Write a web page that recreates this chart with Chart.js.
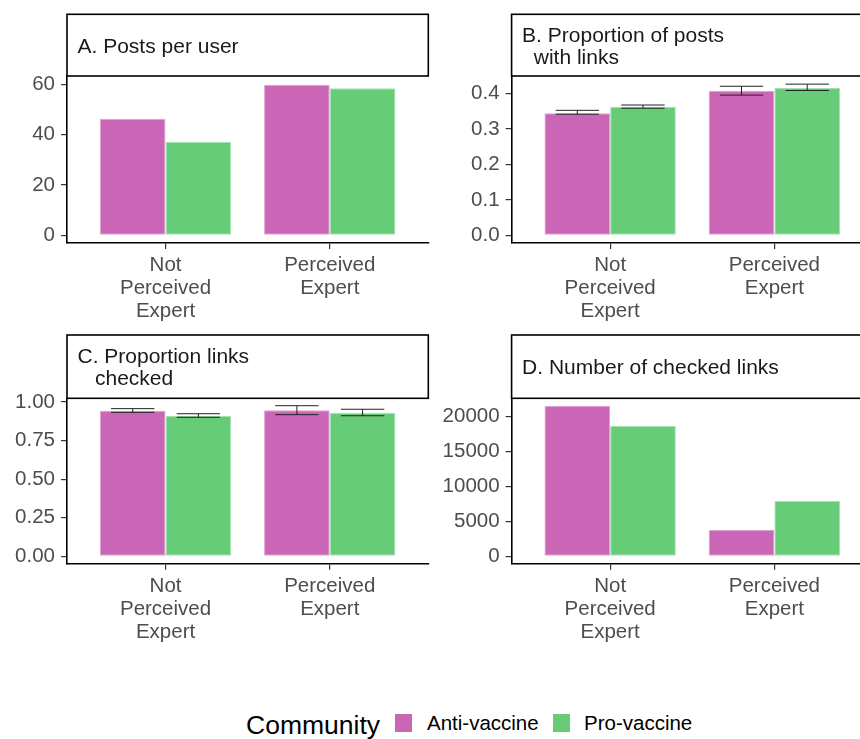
<!DOCTYPE html>
<html><head><meta charset="utf-8">
<script src="https://cdn.jsdelivr.net/npm/chart.js@4.4.1/dist/chart.umd.min.js"></script>
<style>
html,body{margin:0;padding:0;background:#fff;width:860px;height:739px;overflow:hidden;position:relative;font-family:"Liberation Sans",Arial,sans-serif;}
canvas{position:absolute;}
.leg{position:absolute;line-height:1;white-space:nowrap;color:#000;}
.sw{position:absolute;width:17px;height:17.5px;}
</style></head><body>
<canvas id="cA"></canvas>
<canvas id="cB"></canvas>
<canvas id="cC"></canvas>
<canvas id="cD"></canvas>
<div class="leg" style="left:246px;top:711.5px;font-size:26.5px">Community</div>
<div class="sw" style="left:395px;top:714px;background:#CB65B6"></div>
<div class="leg" style="left:427px;top:713.3px;font-size:20.5px">Anti-vaccine</div>
<div class="sw" style="left:553px;top:714px;background:#66CC78"></div>
<div class="leg" style="left:584px;top:713.3px;font-size:20.5px">Pro-vaccine</div>
<script>
// ---------- data ----------
const categories = [["Not", "Perceived", "Expert"], ["Perceived", "Expert"]];
const categoryPositions = [1, 2];
const seriesNames = ["Anti-vaccine", "Pro-vaccine"];

const stripA = ["A. Posts per user"];
const postsPerUserAnti = [46.3, 59.8];
const postsPerUserPro = [37.1, 58.4];
const ticksA = [0, 20, 40, 60];

const stripB = ["B. Proportion of posts", "  with links"];
const propLinksAnti = [0.345, 0.408];
const propLinksPro = [0.363, 0.416];
const propLinksAntiLow = [0.342, 0.396];
const propLinksAntiHigh = [0.353, 0.421];
const propLinksProLow = [0.359, 0.409];
const propLinksProHigh = [0.368, 0.427];
const ticksB = [0, 0.1, 0.2, 0.3, 0.4];

const stripC = ["C. Proportion links", "   checked"];
const propCheckedAnti = [0.944, 0.946];
const propCheckedPro = [0.911, 0.929];
const propCheckedAntiLow = [0.933, 0.918];
const propCheckedAntiHigh = [0.957, 0.976];
const propCheckedProLow = [0.901, 0.911];
const propCheckedProHigh = [0.924, 0.953];
const ticksC = [0, 0.25, 0.5, 0.75, 1.0];

const stripD = ["D. Number of checked links"];
const checkedLinksAnti = [21580, 3810];
const checkedLinksPro = [18670, 7920];
const ticksD = [0, 5000, 10000, 15000, 20000];

// ---------- styling ----------
const FONT = '"Liberation Sans", Arial, sans-serif';
Chart.defaults.font.family = FONT;
const ANTI = '#CB65B6', ANTI_EDGE = '#DDA0D2';
const PRO = '#66CC78', PRO_EDGE = '#A3E2AE';

const stripPlugin = {
  id: 'strip',
  afterDraw(chart, args, opts) {
    const ctx = chart.ctx, a = chart.chartArea;
    ctx.save();
    ctx.lineWidth = 1.6;
    ctx.strokeStyle = '#000';
    ctx.strokeRect(a.left, opts.top, a.right - a.left, a.top - opts.top);
    ctx.fillStyle = '#1A1A1A';
    ctx.font = '21px ' + FONT;
    ctx.textBaseline = 'alphabetic';
    ctx.textAlign = 'left';
    const mid = (opts.top + a.top) / 2;
    const n = opts.lines.length, lh = 22;
    opts.lines.forEach((t, i) => {
      const y = mid + (i - (n - 1) / 2) * lh + 7.5;
      ctx.fillText(t, a.left + 10.5, y);
    });
    ctx.restore();
  }
};

const errPlugin = {
  id: 'errbars',
  afterDatasetsDraw(chart) {
    const ctx = chart.ctx, ys = chart.scales.y;
    ctx.save();
    ctx.strokeStyle = '#222';
    ctx.lineWidth = 1;
    chart.data.datasets.forEach((ds, di) => {
      if (!ds.errLow) return;
      const meta = chart.getDatasetMeta(di);
      meta.data.forEach((el, i) => {
        const lo = ys.getPixelForValue(ds.errLow[i]);
        const hi = ys.getPixelForValue(ds.errHigh[i]);
        const hw = el.width * 0.33;
        ctx.beginPath();
        ctx.moveTo(el.x, lo); ctx.lineTo(el.x, hi);
        ctx.moveTo(el.x - hw, lo); ctx.lineTo(el.x + hw, lo);
        ctx.moveTo(el.x - hw, hi); ctx.lineTo(el.x + hw, hi);
        ctx.stroke();
      });
    });
    ctx.restore();
  }
};

function pts(vals) { return vals.map((v, i) => ({ x: categoryPositions[i], y: v })); }

function makePanel(p) {
  const cv = document.getElementById(p.id);
  cv.width = p.w; cv.height = p.h;
  cv.style.left = p.left + 'px'; cv.style.top = p.top + 'px';
  cv.style.width = p.w + 'px'; cv.style.height = p.h + 'px';
  const plotW = 361.3;
  const ds = [
    { label: seriesNames[0], data: pts(p.anti), backgroundColor: ANTI, borderColor: ANTI_EDGE,
      borderWidth: 1, borderSkipped: false, errLow: p.antiLow, errHigh: p.antiHigh },
    { label: seriesNames[1], data: pts(p.pro), backgroundColor: PRO, borderColor: PRO_EDGE,
      borderWidth: 1, borderSkipped: false, errLow: p.proLow, errHigh: p.proHigh }
  ];
  new Chart(cv, {
    type: 'bar',
    data: { datasets: ds },
    options: {
      responsive: false, animation: false, devicePixelRatio: 1,
      layout: { padding: { top: p.areaTop, left: 0, right: p.w - (p.yW + plotW), bottom: 0 } },
      datasets: { bar: { categoryPercentage: 0.8, barPercentage: 1.0, grouped: true } },
      plugins: {
        legend: { display: false }, tooltip: { enabled: false },
        strip: { top: p.stripTop, lines: p.strip }
      },
      scales: {
        x: {
          type: 'linear', min: 0.4, max: 2.6, offset: false,
          afterBuildTicks(s) { s.ticks = categoryPositions.map(v => ({ value: v })); },
          afterFit(s) { s.height = p.h - p.areaBottom; },
          ticks: {
            autoSkip: false, maxRotation: 0, padding: 5,
            color: '#4D4D4D', font: { size: 20.5, lineHeight: 1.12 },
            callback(v) { const i = categoryPositions.indexOf(v); return i >= 0 ? categories[i] : ''; }
          },
          grid: { display: true, offset: false, drawOnChartArea: false, drawTicks: true, tickLength: 6, color: '#333', lineWidth: 1.2 },
          border: { display: true, color: '#000', width: 1.6 }
        },
        y: {
          type: 'linear', min: p.yMin, max: p.yMax,
          afterBuildTicks(s) { s.ticks = p.yTicks.map(v => ({ value: v })); },
          afterFit(s) { s.width = p.yW; },
          ticks: {
            padding: 6, color: '#4D4D4D', font: { size: 20.5 },
            callback(v) { return v.toFixed(p.dec); }
          },
          grid: { display: true, offset: false, drawOnChartArea: false, drawTicks: true, tickLength: 6, color: '#333', lineWidth: 1.2 },
          border: { display: true, color: '#000', width: 1.6 }
        }
      }
    },
    plugins: [stripPlugin, errPlugin]
  });
}

makePanel({ id: 'cA', left: 0, top: 0, w: 430, h: 321, yW: 67, stripTop: 14.3, areaTop: 76, areaBottom: 243,
  strip: stripA, anti: postsPerUserAnti, pro: postsPerUserPro, yMin: -3.0, yMax: 63.3, yTicks: ticksA, dec: 0 });
makePanel({ id: 'cB', left: 430, top: 0, w: 445, h: 321, yW: 81.6, stripTop: 14.3, areaTop: 76, areaBottom: 243,
  strip: stripB, anti: propLinksAnti, pro: propLinksPro,
  antiLow: propLinksAntiLow, antiHigh: propLinksAntiHigh, proLow: propLinksProLow, proHigh: propLinksProHigh,
  yMin: -0.0218, yMax: 0.450, yTicks: ticksB, dec: 1 });
makePanel({ id: 'cC', left: 0, top: 321, w: 430, h: 330, yW: 67, stripTop: 14, areaTop: 77.3, areaBottom: 242.7,
  strip: stripC, anti: propCheckedAnti, pro: propCheckedPro,
  antiLow: propCheckedAntiLow, antiHigh: propCheckedAntiHigh, proLow: propCheckedProLow, proHigh: propCheckedProHigh,
  yMin: -0.048, yMax: 1.024, yTicks: ticksC, dec: 2 });
makePanel({ id: 'cD', left: 430, top: 321, w: 445, h: 330, yW: 81.6, stripTop: 14, areaTop: 77.3, areaBottom: 242.7,
  strip: stripD, anti: checkedLinksAnti, pro: checkedLinksPro, yMin: -1060, yMax: 22640, yTicks: ticksD, dec: 0 });
</script>
</body></html>
